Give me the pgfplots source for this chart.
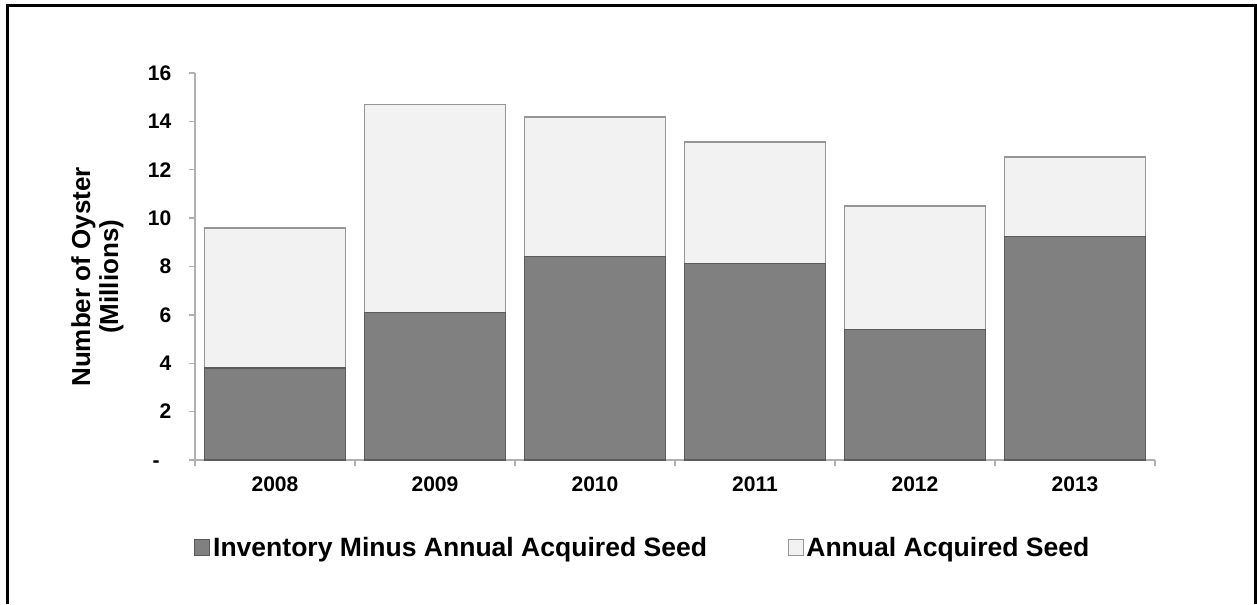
\documentclass[border=0pt]{standalone}
\usepackage{fontspec}
\setmainfont{Liberation Sans}
\usepackage{pgfplots}
\pgfplotsset{compat=1.18}
\definecolor{darkbar}{HTML}{808080}
\definecolor{darkedge}{HTML}{5A5A5A}
\definecolor{lightbar}{HTML}{F2F2F2}
\definecolor{lightedge}{HTML}{959595}
\definecolor{axgray}{HTML}{B0B0B0}
\begin{document}
\begin{tikzpicture}
\path[use as bounding box] (0pt,0pt) rectangle (942.75pt,453pt);
\draw[line width=2.25pt] (5.6pt,0pt) -- (5.6pt,448.9pt) -- (941.6pt,448.9pt) -- (941.6pt,0pt);
\begin{axis}[
 at={(146.25pt,108pt)}, anchor=south west,
 scale only axis, width=720pt, height=290.25pt,
 ybar stacked, bar width=0.88,
 xmin=-0.5, xmax=5.5, ymin=0, ymax=16,
 xtick={-0.5,0.5,...,5.5}, xticklabels={},
 extra x ticks={0,1,2,3,4,5},
 extra x tick labels={2008,2009,2010,2011,2012,2013},
 extra x tick style={major tick length=0pt, xticklabel style={yshift=-9pt}},
 ytick={0,2,...,16}, yticklabels={{-\phantom{0}},2,4,6,8,10,12,14,16},
 yticklabel style={xshift=-9.75pt},
 axis lines=left, axis line style={-, draw=axgray, line width=1pt},
 tick align=outside, major tick length=4.5pt,
 tick style={draw=axgray, line width=1pt},
 tick label style={font=\fontsize{15.8}{18}\selectfont\bfseries},
 ylabel={Number of Oyster\\(Millions)},
 ylabel style={align=center, font=\fontsize{19.5}{21}\selectfont\bfseries,
   at={(axis description cs:-0.1016,0.473)}, anchor=center},
 legend style={at={(axis description cs:-0.005,-0.227)}, anchor=west,
   draw=none, fill=none, legend columns=2,
   font=\fontsize{19.9}{22}\selectfont\bfseries,
   /tikz/every even column/.append style={column sep=58.5pt}},
 legend cell align=left,
]
\addplot[fill=darkbar, draw=darkedge, line width=1.1pt,
  legend image code/.code={\draw[fill=darkbar, draw=darkedge, line width=0.75pt] (0pt,-6pt) rectangle (11.25pt,6pt);}]
  coordinates {(0,3.81) (1,6.10) (2,8.42) (3,8.13) (4,5.39) (5,9.23)};
\addplot[fill=lightbar, draw=lightedge, line width=1.1pt,
  legend image code/.code={\draw[fill=lightbar, draw=lightedge, line width=0.75pt] (0pt,-6pt) rectangle (11.25pt,6pt);}]
  coordinates {(0,5.79) (1,8.60) (2,5.77) (3,5.02) (4,5.12) (5,3.30)};
\legend{Inventory Minus Annual Acquired Seed, Annual Acquired Seed}
\end{axis}
\end{tikzpicture}
\end{document}
